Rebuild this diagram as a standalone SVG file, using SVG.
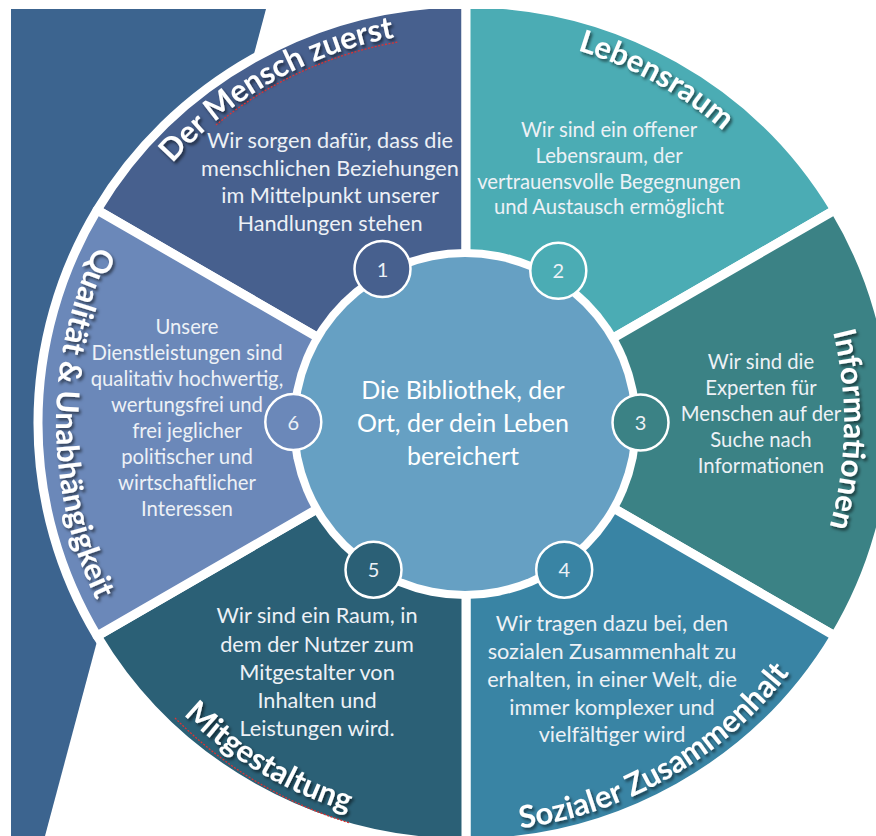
<svg xmlns="http://www.w3.org/2000/svg" width="876" height="836" viewBox="0 0 876 836">
<defs>
<style>
.seg{stroke:#fff;stroke-width:9;stroke-linejoin:round}
.body{font-family:Lato,"Open Sans",sans-serif;fill:#edf1f6;text-anchor:middle}
.num{font-family:Lato,"Open Sans",sans-serif;font-size:20px;fill:#edf1f6;text-anchor:middle}
.title{font-family:Lato,"Open Sans",sans-serif;font-weight:bold;font-size:31px;fill:#fff;filter:url(#sh)}
.badge{stroke:#fff;stroke-width:2.5}
.sq{fill:none;stroke:#d33;stroke-width:1.3;stroke-dasharray:2 1.5}
</style>
<filter id="sh" x="-20%" y="-20%" width="140%" height="140%"><feDropShadow dx="2" dy="2.5" stdDeviation="1.5" flood-color="#000" flood-opacity="0.55"/></filter>
<clipPath id="clip"><rect x="0" y="9" width="876" height="827"/></clipPath>
<path id="tp1" d="M97.6,288.9 A392,392 0 0 1 540.8,38.2"/>
<path id="tp2" d="M398.5,39.9 A389,389 0 0 1 826.7,277.3"/>
<path id="tp3" d="M755.6,180 A378,378 0 0 1 746.9,675.9"/>
<path id="tp4" d="M395,825.8 A409,409 0 0 0 850.3,562.9"/>
<path id="tp5" d="M84.5,561.9 A406,406 0 0 0 529.5,824"/>
<path id="tp6" d="M202.5,108.9 A410,410 0 0 0 202.5,737.1"/>
</defs>
<rect width="876" height="836" fill="#fff"/>
<polygon id="background" points="11,9 266,9 45,836 11,836" fill="#3c648f"/>
<g clip-path="url(#clip)">
<g id="seg1"><path class="seg" fill="#47608e" d="M466,423 L97.1,210 A428,420 0 0 1 466,3 Z"/></g>
<g id="seg2"><path class="seg" fill="#4bacb4" d="M466,423 L466,3 A428,420 0 0 1 834.9,210 Z"/></g>
<g id="seg3"><path class="seg" fill="#3b8285" d="M466,423 L834.9,210 A428,420 0 0 1 834.9,636 Z"/></g>
<g id="seg4"><path class="seg" fill="#3984a4" d="M466,423 L834.9,636 A428,420 0 0 1 466,843 Z"/></g>
<g id="seg5"><path class="seg" fill="#2b6076" d="M466,423 L466,843 A428,420 0 0 1 97.1,636 Z"/></g>
<g id="seg6"><path class="seg" fill="#6b88b9" d="M466,423 L97.1,636 A428,420 0 0 1 97.1,210 Z"/></g>
</g>
<g id="center">
<circle cx="465" cy="424" r="175" fill="#fff"/>
<circle cx="465" cy="424" r="167" fill="#66a0c3"/>
<text class="body" style="font-size:25px;fill:#fff" x="463"><tspan x="463" y="399">Die Bibliothek, der</tspan><tspan x="463" y="432">Ort, der dein Leben</tspan><tspan x="463" y="465">bereichert</tspan></text>
</g>
<g id="connectors"></g>
<g id="badge1"><circle class="badge" cx="382.5" cy="269" r="28" fill="#47608e"/><text class="num" x="382.5" y="276.5">1</text></g>
<g id="badge2"><circle class="badge" cx="558.3" cy="270.8" r="28" fill="#4bacb4"/><text class="num" x="558.3" y="278.3">2</text></g>
<g id="badge3"><circle class="badge" cx="640.5" cy="422.5" r="28" fill="#3b8285"/><text class="num" x="640.5" y="430">3</text></g>
<g id="badge4"><circle class="badge" cx="564.2" cy="569.7" r="28" fill="#3984a4"/><text class="num" x="564.2" y="577.2">4</text></g>
<g id="badge5"><circle class="badge" cx="373.5" cy="569.7" r="28" fill="#2b6076"/><text class="num" x="373.5" y="577.2">5</text></g>
<g id="badge6"><circle class="badge" cx="293.3" cy="422" r="28" fill="#6b88b9"/><text class="num" x="293.3" y="429.5">6</text></g>
<g id="text1">
<text class="body" style="font-size:21.7px"><tspan x="330" y="148">Wir sorgen dafür, dass die</tspan><tspan x="330" y="175.5">menschlichen Beziehungen</tspan><tspan x="330" y="203">im Mittelpunkt unserer</tspan><tspan x="330" y="230.5">Handlungen stehen</tspan></text>
<text class="title"><textPath href="#tp1" startOffset="50%" text-anchor="middle">Der Mensch zuerst</textPath></text>
<path class="sq" d="M216,125 A389,389 0 0 1 398.5,42"/>
</g>
<g id="text2">
<text class="body" style="font-size:20.3px"><tspan x="609" y="137">Wir sind ein offener</tspan><tspan x="609" y="163">Lebensraum, der</tspan><tspan x="609" y="188.5">vertrauensvolle Begegnungen</tspan><tspan x="609" y="214">und Austausch ermöglicht</tspan></text>
<text class="title"><textPath href="#tp2" startOffset="50%" text-anchor="middle">Lebensraum</textPath></text>
</g>
<g id="text3">
<text class="body" style="font-size:20.3px"><tspan x="761" y="369">Wir sind die</tspan><tspan x="761" y="395">Experten für</tspan><tspan x="761" y="421">Menschen auf der</tspan><tspan x="761" y="447">Suche nach</tspan><tspan x="761" y="473">Informationen</tspan></text>
<text class="title"><textPath href="#tp3" startOffset="50%" text-anchor="middle">Informationen</textPath></text>
</g>
<g id="text4">
<text class="body" style="font-size:21.7px"><tspan x="612" y="631">Wir tragen dazu bei, den</tspan><tspan x="612" y="659">sozialen Zusammenhalt zu</tspan><tspan x="612" y="687">erhalten, in einer Welt, die</tspan><tspan x="612" y="715">immer komplexer und</tspan><tspan x="612" y="742">vielfältiger wird</tspan></text>
<text class="title"><textPath href="#tp4" startOffset="50%" text-anchor="middle">Sozialer Zusammenhalt</textPath></text>
</g>
<g id="text5">
<text class="body" style="font-size:21.7px"><tspan x="317" y="623">Wir sind ein Raum, in</tspan><tspan x="317" y="651.5">dem der Nutzer zum</tspan><tspan x="317" y="680">Mitgestalter von</tspan><tspan x="317" y="708">Inhalten und</tspan><tspan x="317" y="735.5">Leistungen wird.</tspan></text>
<path class="sq" d="M175,718 A416,416 0 0 0 350,823"/>
<text class="title"><textPath href="#tp5" startOffset="50%" text-anchor="middle">Mitgestaltung</textPath></text>
</g>
<g id="text6">
<text class="body" style="font-size:20.3px"><tspan x="187" y="334">Unsere</tspan><tspan x="187" y="360">Dienstleistungen sind</tspan><tspan x="187" y="386">qualitativ hochwertig,</tspan><tspan x="187" y="412">wertungsfrei und</tspan><tspan x="187" y="438">frei jeglicher</tspan><tspan x="187" y="464">politischer und</tspan><tspan x="187" y="490">wirtschaftlicher</tspan><tspan x="187" y="516">Interessen</tspan></text>
<text class="title"><textPath href="#tp6" startOffset="50%" text-anchor="middle">Qualität &amp; Unabhängigkeit</textPath></text>
</g>
</svg>
